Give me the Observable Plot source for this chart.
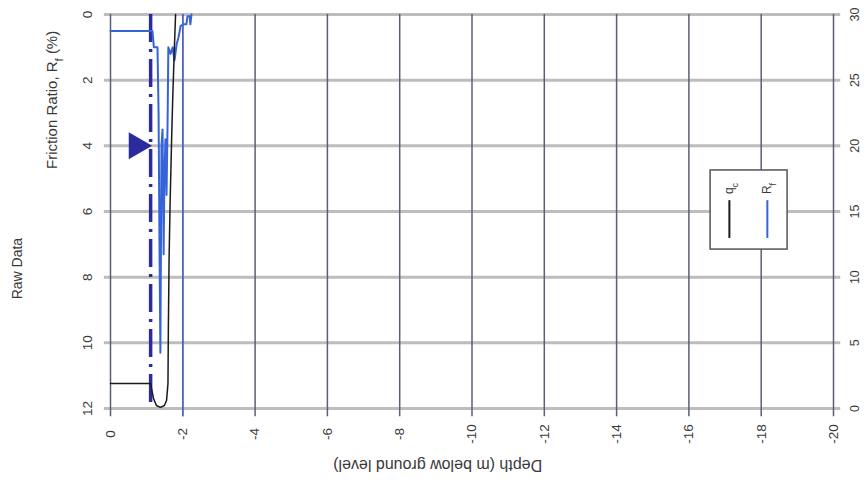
<!DOCTYPE html>
<html>
<head>
<meta charset="utf-8">
<script src="https://cdn.jsdelivr.net/npm/d3@7"></script>
<script src="https://cdn.jsdelivr.net/npm/@observablehq/plot@0.6"></script>
<style>
  html, body { margin: 0; padding: 0; background: #fff; }
  #chart svg { display: block; }
</style>
</head>
<body>
<div id="chart"></div>
<script>
// ---- Data ----
const depthTicks  = [0, -2, -4, -6, -8, -10, -12, -14, -16, -18, -20];
const depthLabels = ["0", "-2", "-4", "-6", "-8", "-10", "-12", "-14", "-16", "-18", "-20"];
const rfTicks     = [0, 2, 4, 6, 8, 10, 12];
const rfLabels    = ["0", "2", "4", "6", "8", "10", "12"];
const qcTicks     = [30, 25, 20, 15, 10, 5, 0];
const qcLabels    = ["30", "25", "20", "15", "10", "5", "0"];

// Cone resistance qc (MPa) vs depth (m)
const qcDepth = [0, -1.107, -1.19, -1.27, -1.38, -1.49, -1.55, -1.59, -1.60, -1.62, -1.65, -1.69, -1.72, -1.76, -1.80];
const qcValue = [1.9, 1.9, 0.76, 0.23, 0.08, 0.23, 0.6, 1.9, 5.9, 11.3, 15.8, 20.4, 23.5, 26.9, 30];

// Friction ratio Rf (%) vs depth (m)
const rfDepth = [0, -1.16, -1.20, -1.30, -1.33, -1.355, -1.38, -1.41, -1.44, -1.47, -1.49, -1.52, -1.55, -1.58, -1.60, -1.66, -1.72, -1.77, -1.83, -1.88, -1.94, -2.02, -2.10, -2.13, -2.19, -2.21, -2.24];
const rfValue = [0.5, 0.5, 1.0, 1.0, 3.0, 7.0, 10.3, 4.0, 3.5, 7.3, 5.0, 3.8, 5.5, 3.2, 1.0, 1.2, 1.0, 1.4, 0.9, 0.7, 0.35, 0.3, 0.3, 0.05, 0.05, 0.3, 0];

// Groundwater level
const waterDepth = [-1.11];
const waterMarker = [{depth: -0.72, rf: 4.0}];

// Highlighted depth line
const refDepth = [-2];

// Legend entries
const legendNames = ["q_c", "R_f"];

// ---- Build tables ----
const qcData = qcDepth.map((d, i) => ({depth: d, qc: qcValue[i]}));
const rfData = rfDepth.map((d, i) => ({depth: d, rf: rfValue[i]}));
const qcToRf = q => (30 - q) * 12 / 30; // right axis aligned with left axis

const navy = "#2b2b9e";
const blue = "#3563d8";
const textColor = "#3a3a3a";

const legendX = [-17.12, -18.17];
const legendColors = ["#1a1a1a", blue];
const legendItems = legendNames.map((n, i) => ({name: n, x: legendX[i], color: legendColors[i]}));

const chart = Plot.plot({
  width: 864,
  height: 486,
  marginLeft: 110,
  marginRight: 31,
  marginTop: 14,
  marginBottom: 78,
  x: {domain: [0, -20], axis: null},
  y: {domain: [0, 12], reverse: true, axis: null},
  style: {fontFamily: "'Liberation Sans', Arial, sans-serif", background: "#fff", color: textColor},
  marks: [
    // horizontal grid (light gray, thick)
    Plot.ruleY(rfTicks, {x1: 0.17, x2: -20.2, stroke: "#bdbdbd", strokeWidth: 3}),
    // vertical grid / axes
    Plot.ruleX(depthTicks, {y1: 0, y2: 12.25, stroke: "#5a5f78", strokeWidth: 1.5}),
    Plot.ruleX(refDepth, {y1: 0, y2: 12.25, stroke: "#4a62d0", strokeWidth: 1.5}),
    // groundwater line
    Plot.ruleX(waterDepth, {y1: 0, y2: 12, stroke: navy, strokeWidth: 3.5, strokeDasharray: "28,7,3,7"}),
    Plot.dot(waterMarker, {x: "depth", y: "rf", symbol: "triangle", r: 10, rotate: 90, fill: navy, stroke: "none"}),
    // data
    Plot.line(rfData, {x: "depth", y: "rf", stroke: blue, strokeWidth: 2}),
    Plot.line(qcData, {x: "depth", y: d => qcToRf(d.qc), stroke: "#1a1a1a", strokeWidth: 1.5}),
    // tick labels
    Plot.text(rfTicks, {x: 0.636, y: d => d, text: (d, i) => rfLabels[i], rotate: -90, fontSize: 13.5, fill: textColor}),
    Plot.text(qcTicks, {x: -20.6, y: d => qcToRf(d), text: (d, i) => qcLabels[i], rotate: -90, fontSize: 12.5, fill: textColor}),
    Plot.text(depthTicks, {x: d => d, y: 12.78, text: (d, i) => depthLabels[i], rotate: -90, fontSize: 13.5, fill: textColor}),
    // axis titles
    Plot.text(["Depth (m below ground level)"], {x: -9.05, y: 13.72, rotate: 180, fontSize: 16, fill: textColor}),
    Plot.text(["Friction Ratio, R_f (%)"], {x: 1.6, y: 2.6, rotate: -90, fontSize: 15, fill: textColor}),
    Plot.text(["Raw Data"], {x: 2.57, y: 7.74, rotate: -90, fontSize: 14, fill: textColor}),
    // legend
    Plot.rect([0], {x1: -16.6, x2: -18.73, y1: 4.75, y2: 7.16, fill: "#fff", stroke: "#555", strokeWidth: 1.5}),
    Plot.ruleX(legendItems, {x: "x", y1: 5.67, y2: 6.82, stroke: "color", strokeWidth: 2}),
    Plot.text(legendItems, {x: "x", y: 5.3, text: "name", rotate: -90, fontSize: 12, fill: textColor})
  ]
});

// subscripts: turn "X_y" into X with subscript y
d3.select(chart).selectAll("text").each(function() {
  const t = this.textContent;
  if (!t.includes("_")) return;
  const sel = d3.select(this);
  sel.text(null);
  const parts = t.split(/_(\w)/);
  parts.forEach((p, i) => {
    if (!p) return;
    if (i % 2 === 1) {
      sel.append("tspan").attr("baseline-shift", "sub").attr("font-size", "75%").text(p);
    } else {
      sel.append("tspan").text(p);
    }
  });
});

document.getElementById("chart").appendChild(chart);
</script>
</body>
</html>
